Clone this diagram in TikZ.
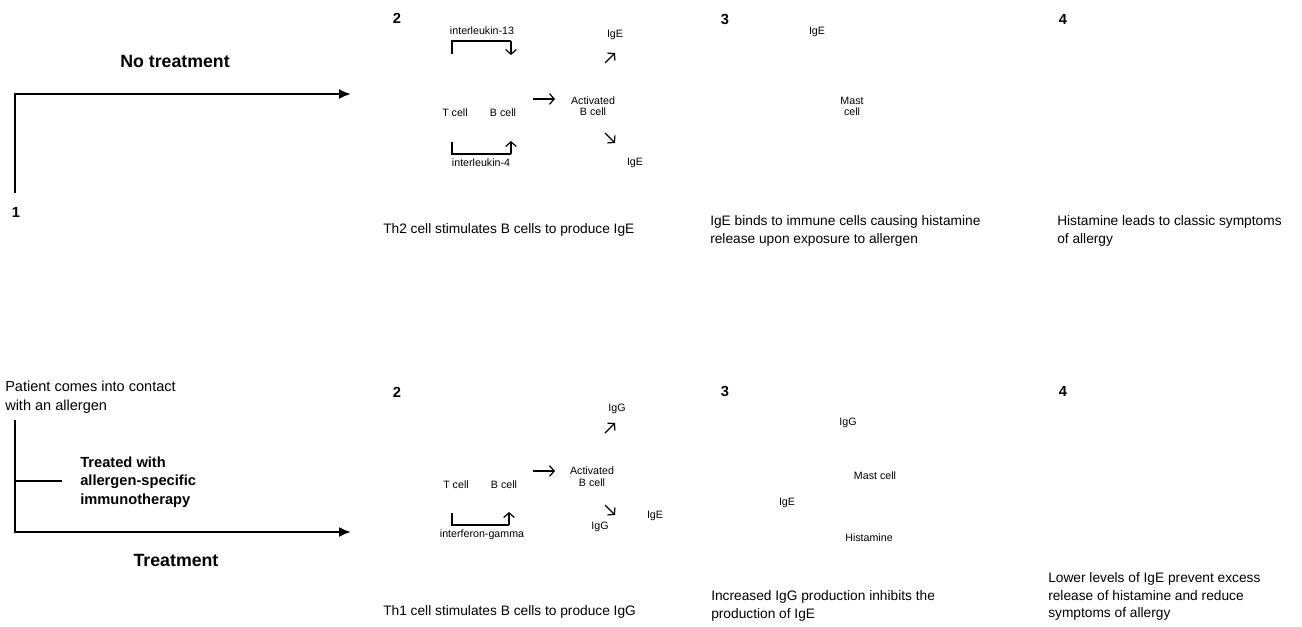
\documentclass[tikz,border=0pt]{standalone}
\usepackage{fontspec}
\setmainfont{Liberation Sans}
\usetikzlibrary{arrows.meta,positioning}
\tikzset{>={Latex[length=9pt,width=7.5pt]}}
\tikzset{
  lbl/.style={inner sep=0pt,align=center,font=\fontsize{8}{8.6}\selectfont},
  caption/.style={inner sep=0pt,align=left,anchor=north west,font=\fontsize{10.3}{13.4}\selectfont},
  stepnum/.style={inner sep=0pt,font=\bfseries\fontsize{11}{13}\selectfont},
  heading/.style={inner sep=0pt,font=\bfseries\fontsize{13.3}{16}\selectfont},
  mainline/.style={line width=1.5pt},
  bracket/.style={line width=1pt},
  small/.style={line width=0.9pt,-{Straight Barb[length=3.5pt,width=8pt]}}
}

\begin{document}
\begin{tikzpicture}[x=0.75pt,y=-0.75pt]
  \useasboundingbox (0,0) rectangle (1302,626);

  % Coordinates
  \coordinate (topstart) at (15,193);
  \coordinate (topcorner) at (15,94);
  \coordinate (topend) at (351,94);
  \coordinate (botstart) at (15,420);
  \coordinate (botcorner) at (15,532);
  \coordinate (botend) at (351,532);
  \coordinate (branch) at (15,481);
  \coordinate (branchend) at (62,481);

  % Left side
  \draw[mainline,->] (topstart) -- (topcorner) -- (topend);
  \draw[mainline,->] (botstart) -- (botcorner) -- (botend);
  \draw[mainline] (branch) -- (branchend);
  \node[heading] (notreat) at (175,61) {No treatment};
  \node[heading] (treat) at (176,560) {Treatment};
  \node[stepnum] (one) at (16,212) {1};
  \node[inner sep=0pt,align=left,anchor=north west,font=\fontsize{10.9}{14.25}\selectfont]
    (patient) at (5,381) {Patient comes into contact\\with an allergen};
  \node[inner sep=0pt,align=left,anchor=north west,font=\bfseries\fontsize{11}{13.9}\selectfont]
    (asit) at (80,456.5) {Treated with\\allergen-specific\\immunotherapy};

  % Step 2, no treatment
  \node[stepnum] (twoa) at (397,18.5) {2};
  \node[lbl] (ilthirteen) at (482,31) {interleukin-13};
  \node[lbl] (tcella) at (455,113) {T cell};
  \node[lbl] (bcella) at (503,113) {B cell};
  \node[lbl] (ilfour) at (481,163) {interleukin-4};
  \node[lbl] (actba) at (593,106) {Activated\\B cell};
  \node[lbl] (igeup) at (615,35) {IgE};
  \node[lbl] (igedown) at (635,163) {IgE};
  \coordinate (ila0) at (452,54);
  \coordinate (ila1) at (452,41);
  \coordinate (ila2) at (511,41);
  \coordinate (ila3) at (511,55);
  \draw[bracket] (ila0) -- (ila1) -- (ila2);
  \draw[small] (ila2) -- (ila3);
  \coordinate (ilb0) at (452,142);
  \coordinate (ilb1) at (452,154);
  \coordinate (ilb2) at (511,154);
  \coordinate (ilb3) at (511,141);
  \draw[bracket] (ilb0) -- (ilb1) -- (ilb2);
  \draw[small] (ilb2) -- (ilb3);
  \coordinate (ara0) at (533,99);
  \coordinate (ara1) at (555,99);
  \draw[small] (ara0) -- (ara1);
  \coordinate (ara2) at (605,63);
  \coordinate (ara3) at (615,53);
  \draw[small] (ara2) -- (ara3);
  \coordinate (ara4) at (605,133);
  \coordinate (ara5) at (615,143);
  \draw[small] (ara4) -- (ara5);
  \node[caption] (capa) at (383,223) {Th2 cell stimulates B cells to produce IgE};

  % Step 3, no treatment
  \node[stepnum] (threea) at (725,19.5) {3};
  \node[lbl] (igemast) at (817,32) {IgE};
  \node[lbl] (mast) at (852,106.5) {Mast\\cell};
  \node[caption] (capb) at (710,215) {IgE binds to immune cells causing histamine\\release upon exposure to allergen};

  % Step 4, no treatment
  \node[stepnum] (foura) at (1063,19) {4};
  \node[caption] (capc) at (1057,215) {Histamine leads to classic symptoms\\of allergy};

  % Step 2, treatment
  \node[stepnum] (twob) at (397,392) {2};
  \node[lbl] (tcellb) at (456,485) {T cell};
  \node[lbl] (bcellb) at (504,485) {B cell};
  \node[lbl] (ifng) at (482,535) {interferon-gamma};
  \node[lbl] (actbb) at (592,476.5) {Activated\\B cell};
  \node[lbl] (iggup) at (617,409) {IgG};
  \node[lbl] (iggdown) at (600,527) {IgG};
  \node[lbl] (igeside) at (655,516) {IgE};
  \coordinate (ifn0) at (452,513);
  \coordinate (ifn1) at (452,525);
  \coordinate (ifn2) at (509,525);
  \coordinate (ifn3) at (509,512);
  \draw[bracket] (ifn0) -- (ifn1) -- (ifn2);
  \draw[small] (ifn2) -- (ifn3);
  \coordinate (arb0) at (533,471);
  \coordinate (arb1) at (555,471);
  \draw[small] (arb0) -- (arb1);
  \coordinate (arb2) at (605,433);
  \coordinate (arb3) at (615,423);
  \draw[small] (arb2) -- (arb3);
  \coordinate (arb4) at (605,505);
  \coordinate (arb5) at (615,515);
  \draw[small] (arb4) -- (arb5);
  \node[caption] (capd) at (383,605) {Th1 cell stimulates B cells to produce IgG};

  % Step 3, treatment
  \node[stepnum] (threeb) at (725,391) {3};
  \node[lbl] (iggmast) at (848,423) {IgG};
  \node[lbl] (mastb) at (875,476) {Mast cell};
  \node[lbl] (igeleft) at (787,503) {IgE};
  \node[lbl] (hist) at (869,538) {Histamine};
  \node[caption] (cape) at (711,590) {Increased IgG production inhibits the\\production of IgE};

  % Step 4, treatment
  \node[stepnum] (fourb) at (1063,391.5) {4};
  \node[caption] (capf) at (1048,572) {Lower levels of IgE prevent excess\\release of histamine and reduce\\symptoms of allergy};
\end{tikzpicture}
\end{document}
